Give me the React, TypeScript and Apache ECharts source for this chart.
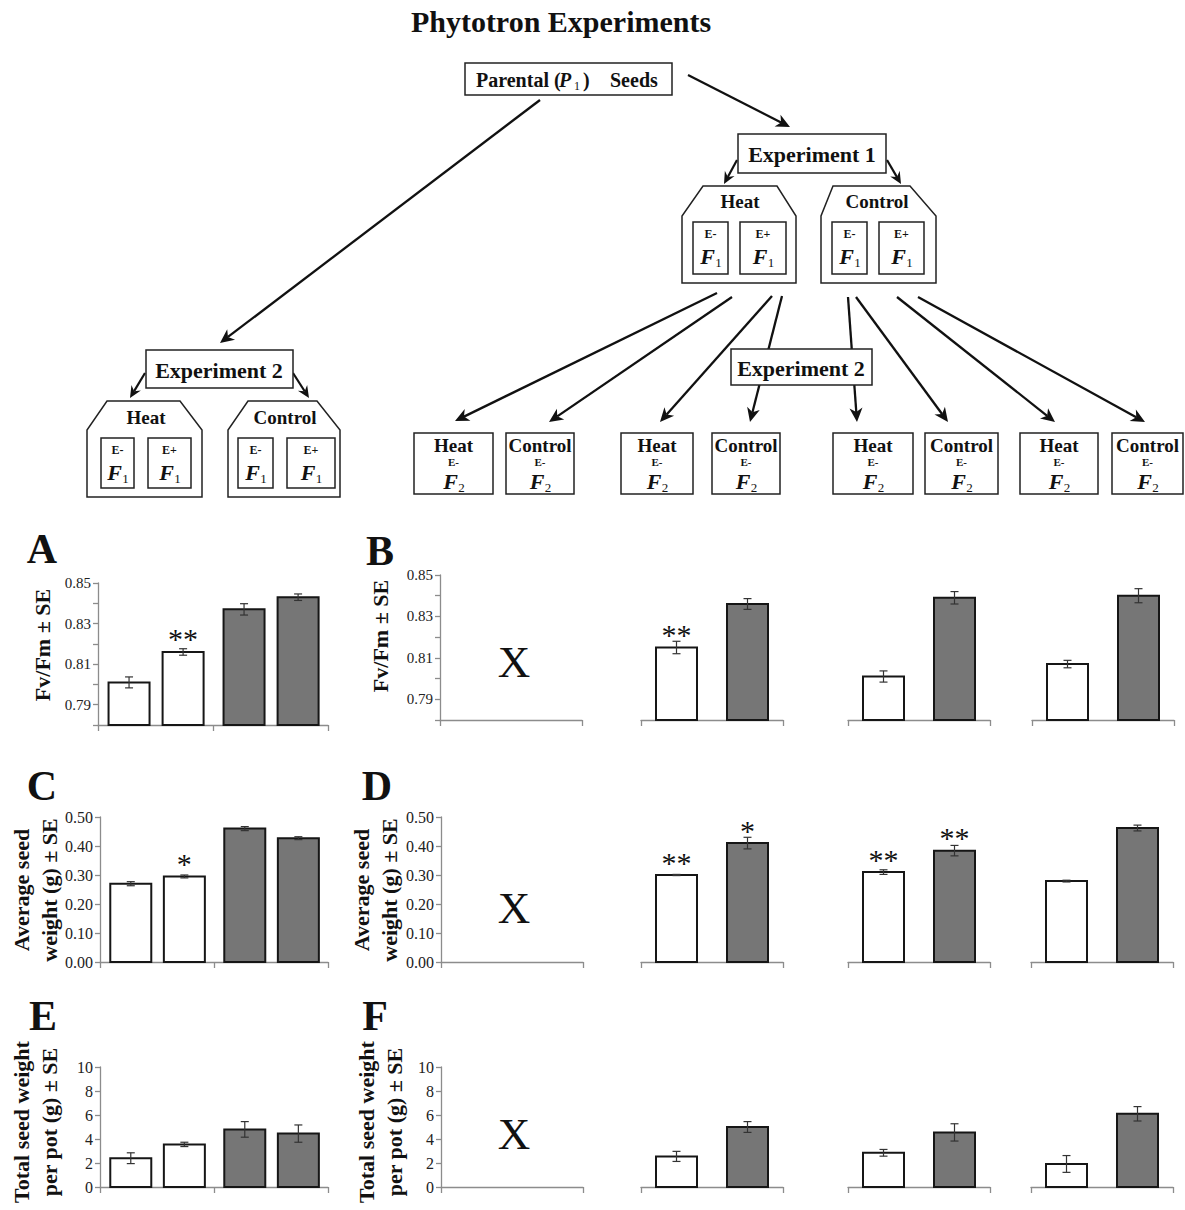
import React, { useEffect, useRef } from "react";
import * as echarts from "echarts";

// ---------------- data ----------------
// white bars = Heat, grey bars = Control
const groups = ["Heat", "Control"];
const f1Endophyte = ["E-", "E+"];

// Fv/Fm (A: F1 of Experiment 2, B: F2 sets)
const fvfmTickLabels = [0.79, 0.81, 0.83, 0.85];
const fvfmF1EMinus = [0.801, 0.837];
const fvfmF1EMinusSE = [0.0027, 0.0028];
const fvfmF1EPlus = [0.816, 0.843];
const fvfmF1EPlusSE = [0.0016, 0.0016];
const fvfmF1EMinusStars = ["", ""];
const fvfmF1EPlusStars = ["**", ""];
const fvfmF2Heat = [null, 0.815, 0.801, 0.807];
const fvfmF2HeatSE = [null, 0.003, 0.0027, 0.0018];
const fvfmF2Control = [null, 0.836, 0.839, 0.84];
const fvfmF2ControlSE = [null, 0.0026, 0.003, 0.0034];
const fvfmF2HeatStars = ["", "**", "", ""];
const fvfmF2ControlStars = ["", "", "", ""];

// Average seed weight (C, D)
const seedTickLabels = [0, 0.1, 0.2, 0.3, 0.4, 0.5];
const seedF1EMinus = [0.27, 0.46];
const seedF1EMinusSE = [0.007, 0.007];
const seedF1EPlus = [0.295, 0.427];
const seedF1EPlusSE = [0.005, 0.005];
const seedF1EMinusStars = ["", ""];
const seedF1EPlusStars = ["*", ""];
const seedF2Heat = [null, 0.3, 0.31, 0.279];
const seedF2HeatSE = [null, 0.002, 0.008, 0.003];
const seedF2Control = [null, 0.41, 0.384, 0.462];
const seedF2ControlSE = [null, 0.02, 0.018, 0.01];
const seedF2HeatStars = ["", "**", "**", ""];
const seedF2ControlStars = ["", "*", "**", ""];

// Total seed weight per pot (E, F)
const totalTickLabels = [0, 2, 4, 6, 8, 10];
const totalF1EMinus = [2.4, 4.8];
const totalF1EMinusSE = [0.45, 0.65];
const totalF1EPlus = [3.55, 4.45];
const totalF1EPlusSE = [0.18, 0.72];
const totalF1EMinusStars = ["", ""];
const totalF1EPlusStars = ["", ""];
const totalF2Heat = [null, 2.55, 2.85, 1.92];
const totalF2HeatSE = [null, 0.42, 0.28, 0.7];
const totalF2Control = [null, 5.0, 4.55, 6.1];
const totalF2ControlSE = [null, 0.45, 0.72, 0.6];
const totalF2HeatStars = ["", "", "", ""];
const totalF2ControlStars = ["", "", "", ""];

// diagram texts
const f2BoxLabels = ["Heat", "Control", "Heat", "Control", "Heat", "Control", "Heat", "Control"];

// ---------------- style / layout ----------------
const SERIF = "'Liberation Serif', 'Times New Roman', 'DejaVu Serif', serif";
const AXIS = "#8c8c8c";
const WHITE = "#ffffff";
const GREY = "#767676";

function T(x: number, y: number, text: string, size: number, o: any = {}) {
  const align = o.align || "center";
  return {
    type: "text",
    x,
    y,
    z: 20,
    rotation: o.rot || 0,
    silent: true,
    style: {
      text,
      fill: o.color || "#111",
      fontFamily: SERIF,
      fontSize: size,
      fontWeight: o.weight || "bold",
      fontStyle: o.italic ? "italic" : "normal",
      textAlign: align,
      align,
      textVerticalAlign: "middle",
      verticalAlign: "middle",
      lineHeight: o.lh,
    },
  };
}

function R(x: number, y: number, w: number, h: number) {
  return {
    type: "rect",
    z: 10,
    silent: true,
    shape: { x, y, width: w, height: h },
    style: { fill: "#fff", stroke: "#222", lineWidth: 1.5 },
  };
}

function house(l: number, r: number, tl: number, tr: number, top: number, sh: number, bottom: number) {
  return {
    type: "polygon",
    z: 10,
    silent: true,
    shape: { points: [[tl, top], [tr, top], [r, sh], [r, bottom], [l, bottom], [l, sh]] },
    style: { fill: "#fff", stroke: "#222", lineWidth: 1.5 },
  };
}

function arrow(x1: number, y1: number, x2: number, y2: number, lw = 2.3, hl = 14, hw = 6.5) {
  const dx = x2 - x1;
  const dy = y2 - y1;
  const L = Math.hypot(dx, dy);
  const ux = dx / L;
  const uy = dy / L;
  const bx = x2 - ux * hl;
  const by = y2 - uy * hl;
  const px = -uy;
  const py = ux;
  return [
    {
      type: "line",
      z: 2,
      silent: true,
      shape: { x1, y1, x2: bx + ux * 4, y2: by + uy * 4 },
      style: { stroke: "#111", lineWidth: lw },
    },
    {
      type: "polygon",
      z: 3,
      silent: true,
      shape: {
        points: [
          [x2, y2],
          [bx + px * hw, by + py * hw],
          [bx + ux * 4, by + uy * 4],
          [bx - px * hw, by - py * hw],
        ],
      },
      style: { fill: "#111" },
    },
  ];
}

function fSub(cx: number, cy: number, sub: string) {
  return [T(cx - 3, cy, "F", 22, { italic: true }), T(cx + 8, cy + 6, sub, 13, { weight: "normal" })];
}

function f1Box(x: number, y: number, w: number, h: number, label: string) {
  const cx = x + w / 2;
  return [R(x, y, w, h), T(cx, y + 12, label, 12), ...fSub(cx, y + 34, "1")];
}

function f2Box(x: number, y: number, w: number, h: number, label: string) {
  const cx = x + w / 2;
  return [R(x, y, w, h), T(cx, y + 12, label, 19), T(cx, y + 29, "E-", 11), ...fSub(cx, y + 48, "2")];
}

function diagram() {
  const els: any[] = [];
  els.push(T(561, 21, "Phytotron Experiments", 30));
  // parental
  els.push(R(465, 63, 207, 32));
  els.push(T(476, 80, "Parental (", 20, { align: "left" }));
  els.push(T(559, 80, "P", 20, { align: "left", italic: true }));
  els.push(T(574, 86, "1", 12, { align: "left", weight: "normal" }));
  els.push(T(583, 80, ")", 20, { align: "left" }));
  els.push(T(610, 80, "Seeds", 20, { align: "left" }));
  els.push(...arrow(540, 100, 220, 343));
  els.push(...arrow(688, 75, 790, 127));
  // experiment 1
  els.push(R(738, 134, 148, 39), T(812, 154, "Experiment 1", 22));
  els.push(...arrow(737, 160, 724, 184, 2.2, 12, 5.5), ...arrow(887, 160, 901, 184, 2.2, 12, 5.5));
  els.push(house(682, 796, 703, 777, 186, 216, 283), T(740, 201, "Heat", 19));
  els.push(...f1Box(693, 222, 35, 52, f1Endophyte[0]), ...f1Box(740, 222, 46, 52, f1Endophyte[1]));
  els.push(house(821, 936, 833, 910, 186, 216, 283), T(877, 201, "Control", 19));
  els.push(...f1Box(832, 222, 35, 52, f1Endophyte[0]), ...f1Box(879, 222, 45, 52, f1Endophyte[1]));
  // experiment 2 (left)
  els.push(R(146, 350, 147, 38), T(219, 370, "Experiment 2", 22));
  els.push(...arrow(145, 373, 130, 398, 2.2, 12, 5.5), ...arrow(293, 373, 309, 398, 2.2, 12, 5.5));
  els.push(house(87, 202, 107, 180, 401, 430, 497), T(146, 417, "Heat", 19));
  els.push(...f1Box(101, 438, 33, 50, f1Endophyte[0]), ...f1Box(148, 438, 43, 50, f1Endophyte[1]));
  els.push(house(228, 340, 248, 317, 401, 430, 497), T(285, 417, "Control", 19));
  els.push(...f1Box(238, 438, 35, 50, f1Endophyte[0]), ...f1Box(287, 438, 48, 50, f1Endophyte[1]));
  // arrows to F2
  els.push(...arrow(717, 293, 455, 421));
  els.push(...arrow(732, 297, 549, 422));
  els.push(...arrow(772, 296, 660, 422));
  els.push(...arrow(782, 296, 750, 422));
  els.push(...arrow(848, 297, 857, 422));
  els.push(...arrow(856, 297, 948, 422));
  els.push(...arrow(897, 297, 1055, 422));
  els.push(...arrow(918, 297, 1145, 422));
  // experiment 2 (middle)
  els.push(R(731, 349, 141, 36), T(801, 368, "Experiment 2", 22));
  const xs = [414, 506, 621, 712, 833, 925, 1020, 1112];
  const ws = [79, 68, 72, 68, 80, 73, 78, 71];
  xs.forEach((x, i) => els.push(...f2Box(x, 433, ws[i], 61, f2BoxLabels[i])));
  return els;
}

function panelTexts() {
  const els: any[] = [];
  els.push(T(42, 549, "A", 42), T(380, 551, "B", 42), T(42, 786, "C", 42));
  els.push(T(377, 786, "D", 42), T(43, 1016, "E", 42), T(375, 1016, "F", 42));
  const rot = Math.PI / 2;
  els.push(T(42, 645, "Fv/Fm ± SE", 22, { rot }));
  els.push(T(380, 636, "Fv/Fm ± SE", 22, { rot }));
  els.push(T(35, 890, "Average seed\nweight (g) ± SE", 22, { rot, lh: 28 }));
  els.push(T(375, 890, "Average seed\nweight (g) ± SE", 22, { rot, lh: 28 }));
  els.push(T(35, 1122, "Total seed weight\nper pot (g) ± SE", 22, { rot, lh: 28 }));
  els.push(T(380, 1122, "Total seed weight\nper pot (g) ± SE", 22, { rot, lh: 28 }));
  els.push(T(514, 662, "X", 45, { weight: "normal" }));
  els.push(T(514, 908, "X", 45, { weight: "normal" }));
  els.push(T(514, 1134, "X", 45, { weight: "normal" }));
  return els;
}

function makeRender(yMin: number, subPos: number[], stars: string[]) {
  return (params: any, api: any) => {
    const g = api.value(0);
    const s = api.value(1);
    const v = api.value(2);
    const se = api.value(3);
    const xv = g + subPos[s];
    const p = api.coord([xv, v]);
    const b = api.coord([xv, yMin]);
    const hi = api.coord([xv, v + se]);
    const lo = api.coord([xv, v - se]);
    const w = 41;
    const cap = 4;
    const children: any[] = [
      {
        type: "rect",
        shape: { x: p[0] - w / 2, y: p[1], width: w, height: b[1] - p[1] },
        style: { fill: g === 0 ? WHITE : GREY, stroke: "#161616", lineWidth: 2 },
      },
      { type: "line", shape: { x1: p[0], y1: hi[1], x2: p[0], y2: lo[1] }, style: { stroke: "#333", lineWidth: 1.2 } },
      { type: "line", shape: { x1: p[0] - cap, y1: hi[1], x2: p[0] + cap, y2: hi[1] }, style: { stroke: "#333", lineWidth: 1.2 } },
      { type: "line", shape: { x1: p[0] - cap, y1: lo[1], x2: p[0] + cap, y2: lo[1] }, style: { stroke: "#333", lineWidth: 1.2 } },
    ];
    const star = stars[params.dataIndex];
    if (star) {
      children.push({
        type: "text",
        x: p[0],
        y: p[1] - 13,
        style: {
          text: star,
          fill: "#111",
          fontFamily: SERIF,
          fontSize: 30,
          textAlign: "center",
          align: "center",
          textVerticalAlign: "middle",
          verticalAlign: "middle",
        },
      });
    }
    return { type: "group", children };
  };
}

function buildOption() {
  const grid: any[] = [];
  const xAxis: any[] = [];
  const yAxis: any[] = [];
  const series: any[] = [];

  const rows = [
    {
      y: {
        min: 0.78,
        max: 0.85,
        interval: 0.01,
        fmt: (v: number) => (fvfmTickLabels.some((t) => Math.abs(t - v) < 1e-6) ? v.toFixed(2) : ""),
      },
      labelSize: 15,
      f1: { left: 98, top: 583, width: 230, height: 142 },
      f2: { top: 575, height: 145, lefts: [440, 641, 848, 1032], width: 142 },
      f1Vals: [fvfmF1EMinus, fvfmF1EMinusSE, fvfmF1EPlus, fvfmF1EPlusSE, fvfmF1EMinusStars, fvfmF1EPlusStars],
      f2Vals: [fvfmF2Heat, fvfmF2HeatSE, fvfmF2Control, fvfmF2ControlSE, fvfmF2HeatStars, fvfmF2ControlStars],
    },
    {
      y: {
        min: seedTickLabels[0],
        max: seedTickLabels[seedTickLabels.length - 1],
        interval: 0.1,
        fmt: (v: number) => v.toFixed(2),
      },
      labelSize: 16,
      f1: { left: 100, top: 817, width: 228, height: 145 },
      f2: { top: 817, height: 145, lefts: [441, 641, 848, 1031], width: 142 },
      f1Vals: [seedF1EMinus, seedF1EMinusSE, seedF1EPlus, seedF1EPlusSE, seedF1EMinusStars, seedF1EPlusStars],
      f2Vals: [seedF2Heat, seedF2HeatSE, seedF2Control, seedF2ControlSE, seedF2HeatStars, seedF2ControlStars],
    },
    {
      y: {
        min: totalTickLabels[0],
        max: totalTickLabels[totalTickLabels.length - 1],
        interval: 2,
        fmt: (v: number) => String(Math.round(v)),
      },
      labelSize: 16,
      f1: { left: 100, top: 1067, width: 228, height: 120 },
      f2: { top: 1067, height: 120, lefts: [441, 641, 848, 1031], width: 142 },
      f1Vals: [totalF1EMinus, totalF1EMinusSE, totalF1EPlus, totalF1EPlusSE, totalF1EMinusStars, totalF1EPlusStars],
      f2Vals: [totalF2Heat, totalF2HeatSE, totalF2Control, totalF2ControlSE, totalF2HeatStars, totalF2ControlStars],
    },
  ];

  let idx = 0;
  const addGrid = (rect: any, row: any, xInterval: number, showY: boolean) => {
    grid.push({ left: rect.left, top: rect.top, width: rect.width, height: rect.height, containLabel: false });
    xAxis.push({
      gridIndex: idx,
      type: "value",
      min: 0,
      max: 2,
      interval: xInterval,
      axisLine: { show: true, onZero: false, lineStyle: { color: AXIS, width: 1.3 } },
      axisTick: { show: true, length: 6, lineStyle: { color: AXIS, width: 1.3 } },
      axisLabel: { show: false },
      splitLine: { show: false },
    });
    yAxis.push({
      gridIndex: idx,
      type: "value",
      min: row.y.min,
      max: row.y.max,
      interval: row.y.interval,
      show: showY,
      axisLine: { show: true, lineStyle: { color: AXIS, width: 1.3 } },
      axisTick: { show: true, length: 5, lineStyle: { color: AXIS, width: 1.3 } },
      axisLabel: {
        color: "#222",
        fontFamily: SERIF,
        fontSize: row.labelSize,
        margin: 7,
        formatter: row.y.fmt,
      },
      splitLine: { show: false },
    });
    return idx++;
  };

  rows.forEach((row) => {
    // F1 panel (A, C, E)
    const gi = addGrid(row.f1, row, 1, true);
    const [em, emse, ep, epse, ems, eps] = row.f1Vals as any[];
    const data: any[] = [];
    const stars: string[] = [];
    groups.forEach((_, g) => {
      data.push([g, 0, em[g], emse[g]]);
      stars.push(ems[g]);
      data.push([g, 1, ep[g], epse[g]]);
      stars.push(eps[g]);
    });
    series.push({
      type: "custom",
      xAxisIndex: gi,
      yAxisIndex: gi,
      clip: false,
      encode: { x: 0, y: 2 },
      data,
      renderItem: makeRender(row.y.min, [0.27, 0.74], stars),
    });
    // F2 subplots (B, D, F)
    const [h, hse, c, cse, hs, cs] = row.f2Vals as any[];
    row.f2.lefts.forEach((left: number, k: number) => {
      const gk = addGrid({ left, top: row.f2.top, width: row.f2.width, height: row.f2.height }, row, 2, k === 0);
      if (h[k] == null) return;
      series.push({
        type: "custom",
        xAxisIndex: gk,
        yAxisIndex: gk,
        clip: false,
        encode: { x: 0, y: 2 },
        data: [
          [0, 0, h[k], hse[k]],
          [1, 0, c[k], cse[k]],
        ],
        renderItem: makeRender(row.y.min, [0.5], [hs[k], cs[k]]),
      });
    });
  });

  return {
    animation: false,
    backgroundColor: "#ffffff",
    grid,
    xAxis,
    yAxis,
    series,
    graphic: { elements: [...diagram(), ...panelTexts()] },
  };
}

export default function App() {
  const ref = useRef<HTMLDivElement>(null);
  useEffect(() => {
    if (!ref.current) return;
    const chart = echarts.init(ref.current, undefined, { renderer: "svg" });
    chart.setOption(buildOption() as any);
    return () => chart.dispose();
  }, []);
  return (
    <div
      ref={ref}
      style={{ position: "absolute", left: 0, top: 0, width: 1185, height: 1210, background: "#fff" }}
    />
  );
}
